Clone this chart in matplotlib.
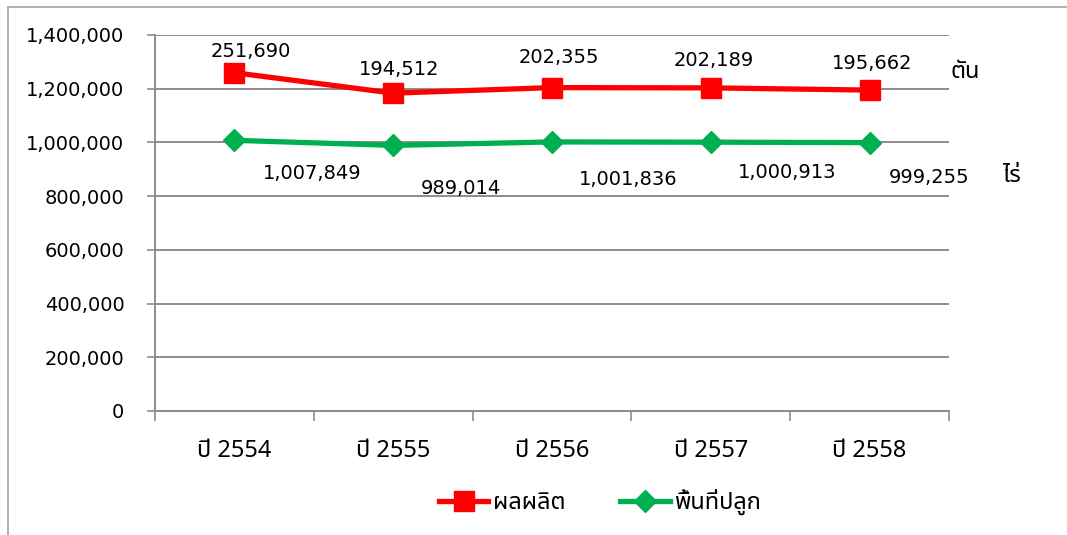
import matplotlib
matplotlib.use("Agg")
import matplotlib.pyplot as plt
from matplotlib import font_manager
from matplotlib.lines import Line2D
import numpy as np

# ---- data ----
categories = ["ปี 2554", "ปี 2555", "ปี 2556", "ปี 2557", "ปี 2558"]
area = [1007849, 989014, 1001836, 1000913, 999255]      # พื้นที่ปลูก (ไร่)
production = [251690, 194512, 202355, 202189, 195662]   # ผลผลิต (ตัน)
yticks = [0, 200000, 400000, 600000, 800000, 1000000, 1200000, 1400000]
series_names = ["ผลผลิต", "พื้นที่ปลูก"]
units = ["ตัน", "ไร่"]

# ---- find a font with Thai glyphs ----
def find_thai_font():
    try:
        from fontTools.ttLib import TTFont
    except Exception:
        return None
    prefs = []
    for f in font_manager.fontManager.ttflist:
        try:
            kw = {"fontNumber": 0} if f.fname.lower().endswith(".ttc") else {}
            tt = TTFont(f.fname, lazy=True, **kw)
            cmap = tt.getBestCmap()
            if cmap and 0x0E1C in cmap and 0x0E35 in cmap:
                prefs.append(f.name)
        except Exception:
            continue
    order = ["Tahoma", "Noto Sans Thai", "Noto Sans Thai Looped", "Garuda", "Loma", "Norasi"]
    for o in order:
        if o in prefs:
            return o
    return prefs[0] if prefs else None

thai = find_thai_font()
fam = ["DejaVu Sans"] + ([thai] if thai else [])
fam_thai_first = ([thai] if thai else []) + ["DejaVu Sans"]
plt.rcParams["font.family"] = fam

W, H = 1067, 535
fig = plt.figure(figsize=(W / 100, H / 100), dpi=100)
ax = fig.add_axes([155 / W, 1 - 411 / H, (949 - 155) / W, (411 - 35) / H])

x = np.arange(len(categories))
stacked_top = np.array(area) + np.array(production)

red = "#FF0000"
green = "#00B050"
grid = "#8C8C8C"

ax.plot(x, area, color=green, lw=3.8, marker="D", ms=11, mec=green, mfc=green,
        label=series_names[1], zorder=3, solid_capstyle="round")
ax.plot(x, stacked_top, color=red, lw=3.8, marker="s", ms=14, mec=red, mfc=red,
        label=series_names[0], zorder=4, solid_capstyle="round")

ax.set_xlim(-0.5, len(categories) - 0.5)
ax.set_ylim(0, 1400000)
ax.set_yticks(yticks)
ax.set_yticklabels([f"{v:,}" for v in yticks])
ax.yaxis.grid(True, color=grid, lw=1.4)
ax.set_axisbelow(True)

ax.set_xticks(x)
ax.set_xticklabels(categories, family=fam_thai_first, fontsize=17)
ax.set_xticks(np.arange(-0.5, len(categories)), minor=True)
ax.tick_params(axis="x", which="major", length=0, pad=20)
ax.tick_params(axis="x", which="minor", length=7, width=1.2, color=grid, direction="out")
ax.tick_params(axis="y", length=6, width=1.2, color=grid, direction="out", pad=16, labelsize=14)

for s in ["top", "right"]:
    ax.spines[s].set_visible(False)
for s in ["left", "bottom"]:
    ax.spines[s].set_color(grid)
    ax.spines[s].set_linewidth(1.4)

# data labels
red_off = [(12, 15), (4, 17), (5, 22), (2, 20), (2, 19)]
green_off = [(56, -24), (49, -31), (55, -27), (55, -22), (43, -25)]
for i in range(len(categories)):
    ax.annotate(f"{production[i]:,}", (x[i], stacked_top[i]), xytext=red_off[i],
                textcoords="offset points", ha="center", va="center", fontsize=14)
    ax.annotate(f"{area[i]:,}", (x[i], area[i]), xytext=green_off[i],
                textcoords="offset points", ha="center", va="center", fontsize=14)

# unit labels
fig.text(950 / W, 1 - 72 / H, units[0], ha="left", va="center", fontsize=17, family=fam_thai_first)
fig.text(1002 / W, 1 - 176 / H, units[1], ha="left", va="center", fontsize=17, family=fam_thai_first)

# legend
handles = [Line2D([], [], color=red, lw=3.8, marker="s", ms=14),
           Line2D([], [], color=green, lw=3.8, marker="D", ms=11)]
fig.legend(handles, series_names, loc="center", bbox_to_anchor=(600 / W, 1 - 502 / H),
           ncol=2, frameon=False, handlelength=2.1, columnspacing=2.3,
           handletextpad=0.2, prop={"family": fam_thai_first, "size": 17})

# outer chart frame (top and left edges)
fig.add_artist(Line2D([8 / W, 8 / W], [0, 1 - 7 / H], transform=fig.transFigure,
                      color="#A6A6A6", lw=1.2))
fig.add_artist(Line2D([8 / W, 1], [1 - 7 / H, 1 - 7 / H], transform=fig.transFigure,
                      color="#A6A6A6", lw=1.2))

fig.savefig("out.png", dpi=100)
